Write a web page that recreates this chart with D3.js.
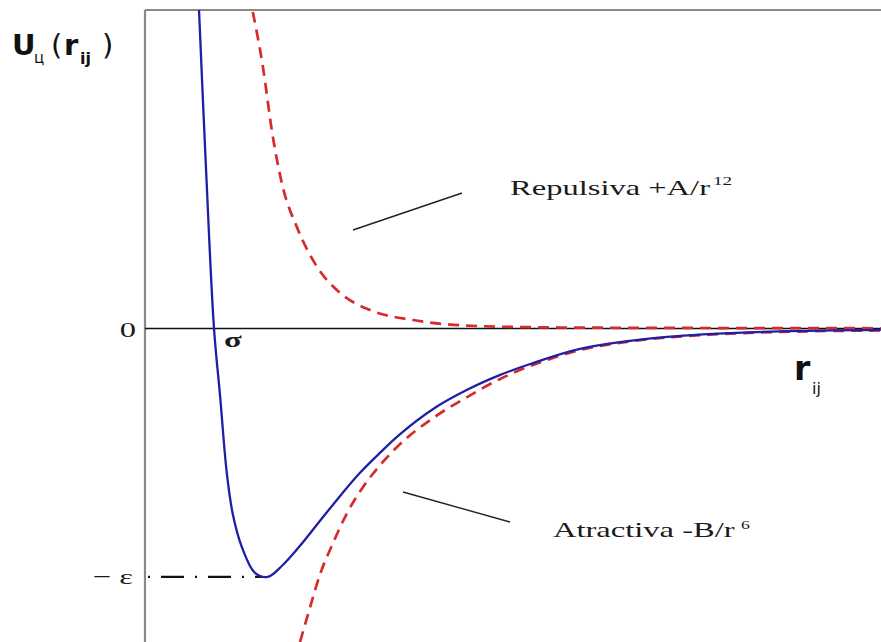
<!DOCTYPE html>
<html>
<head>
<meta charset="utf-8">
<script src="https://cdn.jsdelivr.net/npm/d3@7"></script>
<style>
  html, body { margin: 0; padding: 0; background: #fff; }
  svg { display: block; }
</style>
</head>
<body>
<svg id="chart" width="881" height="642"></svg>
<script>
// ---- Data (r in units of sigma, U in units of epsilon) ----
const totalR = [0.966, 0.982, 1.000, 1.014, 1.029, 1.043, 1.063, 1.093, 1.122, 1.156, 1.195, 1.240, 1.286, 1.331, 1.376, 1.422, 1.497, 1.574, 1.649, 1.717, 1.830, 1.982, 2.132, 2.283, 2.512];
const totalU = [1.282, 0.637, 0.000, -0.276, -0.582, -0.751, -0.879, -0.984, -1.000, -0.952, -0.875, -0.775, -0.674, -0.581, -0.501, -0.425, -0.324, -0.247, -0.187, -0.143, -0.082, -0.042, -0.022, -0.012, -0.006];

const repulsiveR = [1.088, 1.111, 1.132, 1.156, 1.188, 1.234, 1.286, 1.354, 1.451, 1.596, 1.785, 2.102, 2.512];
const repulsiveU = [1.274, 1.052, 0.787, 0.569, 0.408, 0.247, 0.143, 0.074, 0.034, 0.010, 0.004, 0.002, 0.001];

const attractiveR = [1.195, 1.218, 1.240, 1.270, 1.302, 1.338, 1.383, 1.422, 1.497, 1.574, 1.649, 1.717, 1.830, 1.982, 2.132, 2.283, 2.512];
const attractiveU = [-1.262, -1.121, -0.992, -0.863, -0.742, -0.638, -0.537, -0.465, -0.360, -0.276, -0.203, -0.151, -0.087, -0.044, -0.024, -0.014, -0.008];

const xDomain = [0.8435, 2.5125];
const yDomain = [-1.262, 1.282];
const sigmaR = 1.0;
const wellU = -1.0;

const zeroLabel = "0";
const sigmaLabel = "σ";
const epsLabel = "− ε";
const repulsiveLabel = "Repulsiva +A/r";
const repulsiveSup = "12";
const attractiveLabel = "Atractiva -B/r";
const attractiveSup = "6";

// ---- Layout ----
const plot = { left: 145, right: 881, top: 10, bottom: 642 };

const svg = d3.select("#chart");
const x = d3.scaleLinear().domain(xDomain).range([plot.left, plot.right]);
const y = d3.scaleLinear().domain(yDomain).range([plot.bottom, plot.top]);

svg.append("defs").append("clipPath").attr("id", "plotclip")
  .append("rect").attr("x", plot.left).attr("y", plot.top)
  .attr("width", plot.right - plot.left).attr("height", plot.bottom - plot.top);

// frame (top + left)
svg.append("line").attr("x1", plot.left).attr("x2", plot.right).attr("y1", plot.top).attr("y2", plot.top)
  .attr("stroke", "#8a8a8a").attr("stroke-width", 2.2);
svg.append("line").attr("x1", plot.left).attr("x2", plot.left).attr("y1", plot.top).attr("y2", plot.bottom)
  .attr("stroke", "#8a8a8a").attr("stroke-width", 2.2);

// zero line
svg.append("line").attr("x1", plot.left).attr("x2", plot.right).attr("y1", y(0)).attr("y2", y(0))
  .attr("stroke", "#111").attr("stroke-width", 1.6);

// -epsilon dash-dot line
const minIdx = d3.minIndex(totalU);
svg.append("line").attr("x1", plot.left + 3).attr("x2", x(totalR[minIdx]) - 6)
  .attr("y1", y(wellU)).attr("y2", y(wellU))
  .attr("stroke", "#111").attr("stroke-width", 2.4)
  .attr("stroke-dasharray", "2,11,23,11");

const g = svg.append("g").attr("clip-path", "url(#plotclip)");

const line = d3.line().x(d => x(d[0])).y(d => y(d[1]));

g.append("path").datum(repulsiveR.map((r, i) => [r, repulsiveU[i]]))
  .attr("d", line.curve(d3.curveMonotoneX)).attr("fill", "none")
  .attr("stroke", "#d42c2c").attr("stroke-width", 2.7).attr("stroke-dasharray", "11,7");

g.append("path").datum(attractiveR.map((r, i) => [r, attractiveU[i]]))
  .attr("d", line.curve(d3.curveMonotoneX)).attr("fill", "none")
  .attr("stroke", "#d42c2c").attr("stroke-width", 2.7).attr("stroke-dasharray", "11,7");

g.append("path").datum(totalR.map((r, i) => [r, totalU[i]]))
  .attr("d", line.curve(d3.curveCatmullRom.alpha(0.5))).attr("fill", "none")
  .attr("stroke", "#1f1fa6").attr("stroke-width", 2.3).attr("stroke-linejoin", "round");

// ---- serif labels (stretched horizontally like the picture) ----
const serif = "'Liberation Serif', 'Times New Roman', serif";
function serifText(px, py, txt, size, anchor) {
  return svg.append("text")
    .attr("transform", `translate(${px},${py}) scale(1.48,1)`)
    .attr("font-family", serif).attr("font-size", size).attr("fill", "#1a1a1a")
    .attr("text-anchor", anchor || "start").text(txt);
}
serifText(plot.left - 9, y(0) + 9, zeroLabel, 22, "end");
serifText(x(sigmaR) + 10, y(0) + 19, sigmaLabel, 22, "start").attr("font-weight", "bold");
serifText(plot.left - 12, y(wellU) + 7, epsLabel, 22, "end");

serifText(510, 195, repulsiveLabel, 22, "start");
serifText(713, 185, repulsiveSup, 13, "start");
serifText(553, 537, attractiveLabel, 22, "start");
serifText(741, 529, attractiveSup, 12, "start");

// pointer lines
svg.append("line").attr("x1", 353).attr("y1", 230).attr("x2", 462).attr("y2", 193)
  .attr("stroke", "#222").attr("stroke-width", 1.4);
svg.append("line").attr("x1", 403).attr("y1", 492).attr("x2", 510).attr("y2", 522)
  .attr("stroke", "#222").attr("stroke-width", 1.4);

// ---- sans labels ----
const sans = "'DejaVu Sans', Verdana, sans-serif";
const uLab = svg.append("text").attr("font-family", sans).attr("fill", "#111").attr("font-weight", "bold");
uLab.append("tspan").attr("x", 12).attr("y", 55).attr("font-size", 29).text("U");
uLab.append("tspan").attr("x", 34).attr("y", 63).attr("font-size", 15).attr("font-weight", "normal").text("ц");
uLab.append("tspan").attr("x", 51).attr("y", 55).attr("font-size", 29).attr("font-weight", "normal").text("(");
uLab.append("tspan").attr("x", 64).attr("y", 55).attr("font-size", 29).text("r");
uLab.append("tspan").attr("x", 80).attr("y", 64).attr("font-size", 16).text("ij");
uLab.append("tspan").attr("x", 102).attr("y", 55).attr("font-size", 29).attr("font-weight", "normal").text(")");

const rLab = svg.append("text").attr("font-family", sans).attr("fill", "#111").attr("font-weight", "bold");
rLab.append("tspan").attr("x", 794).attr("y", 380).attr("font-size", 33).text("r");
rLab.append("tspan").attr("x", 812).attr("y", 394).attr("font-size", 16).attr("font-weight", "normal").text("ij");
</script>
</body>
</html>
